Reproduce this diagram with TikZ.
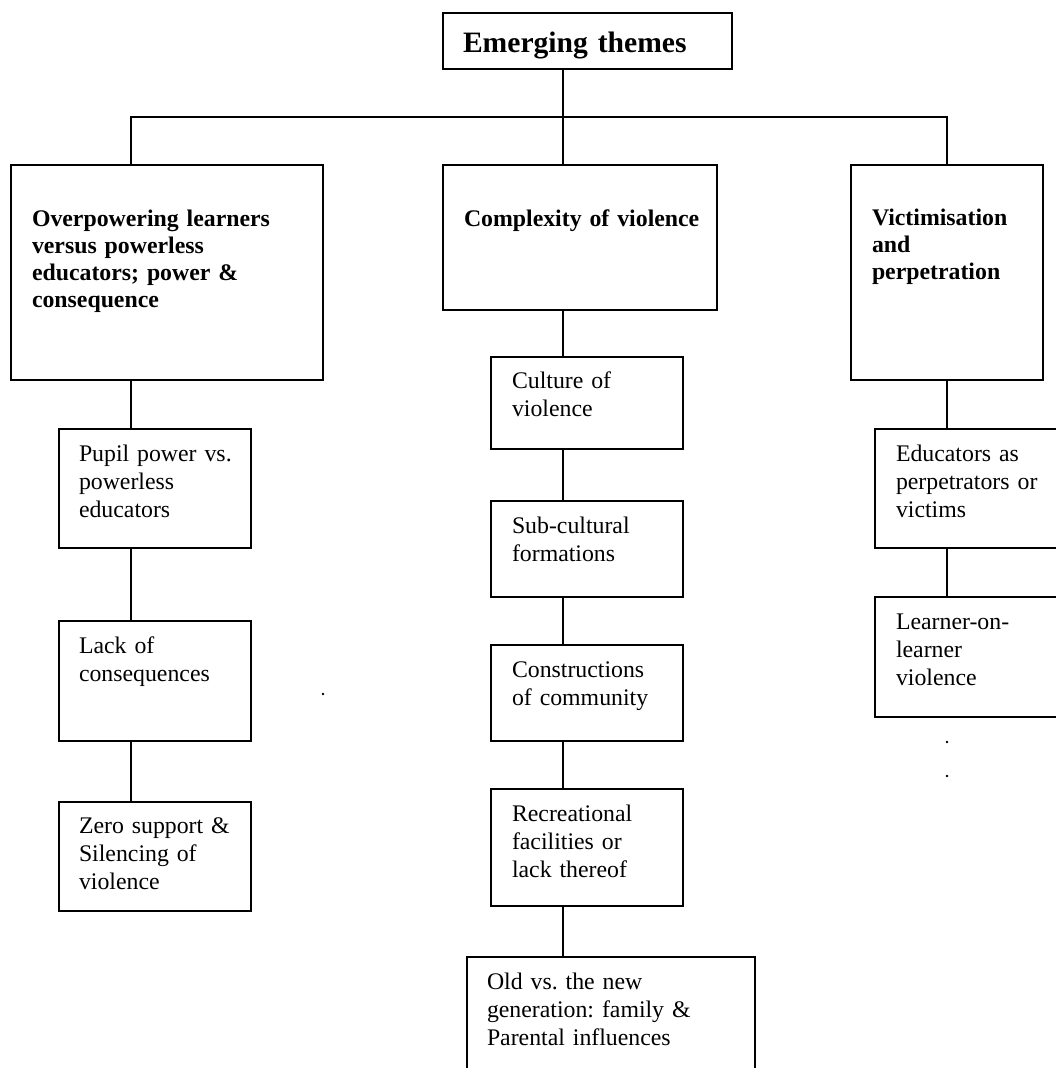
\documentclass[tikz,border=0pt]{standalone}
\usepackage{fontspec}
\setmainfont{Liberation Serif}
\frenchspacing
\newcommand\bodyfnt{\frenchspacing\fontsize{23.8}{28}\selectfont}
\newcommand\headfnt{\frenchspacing\bfseries\fontsize{23.8}{27}\selectfont}
\newcommand\titlefnt{\frenchspacing\bfseries\fontsize{29.6}{34}\selectfont}
\tikzset{
  box/.style={draw, line width=2.4pt, inner sep=0pt, outer sep=0pt, anchor=north west},
  bigbox/.style={box, line width=2.8pt},
  txt/.style={anchor=base west, inner sep=0pt, outer sep=0pt, align=left, text width=400pt, font=\bodyfnt},
  headtxt/.style={txt, font=\headfnt},
  conn/.style={line width=2.1pt},
  dot/.style={circle, fill, inner sep=0pt, minimum size=2.6pt}
}
\begin{document}
\begin{tikzpicture}[x=1pt,y=-1pt]
\useasboundingbox (0,0) rectangle (1056,1068);
\clip (0,0) rectangle (1056,1068);
\fill[white] (0,0) rectangle (1056,1068);

% boxes
\node[box, minimum width=289pt, minimum height=56pt] (title) at (443,13) {};
\node[bigbox, minimum width=312pt, minimum height=215pt] (bigL) at (11,165) {};
\node[bigbox, minimum width=274pt, minimum height=145pt] (bigC) at (443,165) {};
\node[bigbox, minimum width=192pt, minimum height=215pt] (bigR) at (851,165) {};

\node[box, minimum width=192pt, minimum height=119pt] (L1) at (59,429) {};
\node[box, minimum width=192pt, minimum height=120pt] (L2) at (59,621) {};
\node[box, minimum width=192pt, minimum height=109pt] (L3) at (59,802) {};

\node[box, minimum width=192pt, minimum height=92pt] (C1) at (491,357) {};
\node[box, minimum width=192pt, minimum height=96pt] (C2) at (491,501) {};
\node[box, minimum width=192pt, minimum height=96pt] (C3) at (491,645) {};
\node[box, minimum width=192pt, minimum height=117pt] (C4) at (491,789) {};
\node[box, minimum width=288pt, minimum height=150pt] (C5) at (467,957) {};

\node[box, minimum width=200pt, minimum height=119pt] (R1) at (875,429) {};
\node[box, minimum width=200pt, minimum height=120pt] (R2) at (875,597) {};

% texts
\node[txt, font=\titlefnt] (titleT) at (463,52) {Emerging themes};
\node[headtxt] (bigLT) at (32,226) {Overpowering learners\\versus powerless\\educators; power \&\\consequence};
\node[headtxt] (bigCT) at (464,226) {Complexity of violence};
\node[headtxt] (bigRT) at (872,225) {Victimisation\\and\\perpetration};

\node[txt] (L1T) at (79,461) {Pupil power vs.\\powerless\\educators};
\node[txt] (L2T) at (79,653) {Lack of\\consequences};
\node[txt] (L3T) at (79,833) {Zero support \&\\Silencing of\\violence};

\node[txt] (C1T) at (512,388) {Culture of\\violence};
\node[txt] (C2T) at (512,533) {Sub-cultural\\formations};
\node[txt] (C3T) at (512,677) {Constructions\\of community};
\node[txt] (C4T) at (512,821) {Recreational\\facilities or\\lack thereof};
\node[txt] (C5T) at (487,989) {Old vs. the new\\generation: family \&\\Parental influences};

\node[txt] (R1T) at (896,461) {Educators as\\perpetrators or\\victims};
\node[txt] (R2T) at (896,629) {Learner-on-\\learner\\violence};

% connector hubs
\coordinate (hub) at (563,117);
\coordinate (hl) at (131,117);
\coordinate (hr) at (947,117);

\draw[conn] (title.south -| hub) -- (bigC.north -| hub);
\draw[conn] (bigL.north -| hl) -- (hl) -- (hr) -- (bigR.north -| hr);

\draw[conn] (bigL.south -| hl) -- (L1.north -| hl);
\draw[conn] (L1.south -| hl) -- (L2.north -| hl);
\draw[conn] (L2.south -| hl) -- (L3.north -| hl);

\draw[conn] (bigC.south -| hub) -- (C1.north -| hub);
\draw[conn] (C1.south -| hub) -- (C2.north -| hub);
\draw[conn] (C2.south -| hub) -- (C3.north -| hub);
\draw[conn] (C3.south -| hub) -- (C4.north -| hub);
\draw[conn] (C4.south -| hub) -- (C5.north -| hub);

\draw[conn] (bigR.south -| hr) -- (R1.north -| hr);
\draw[conn] (R1.south -| hr) -- (R2.north -| hr);

% stray dots
\node[dot] (d1) at (323,694) {};
\node[dot] (d2) at (947,742) {};
\node[dot] (d3) at (947,776) {};
\end{tikzpicture}
\end{document}
